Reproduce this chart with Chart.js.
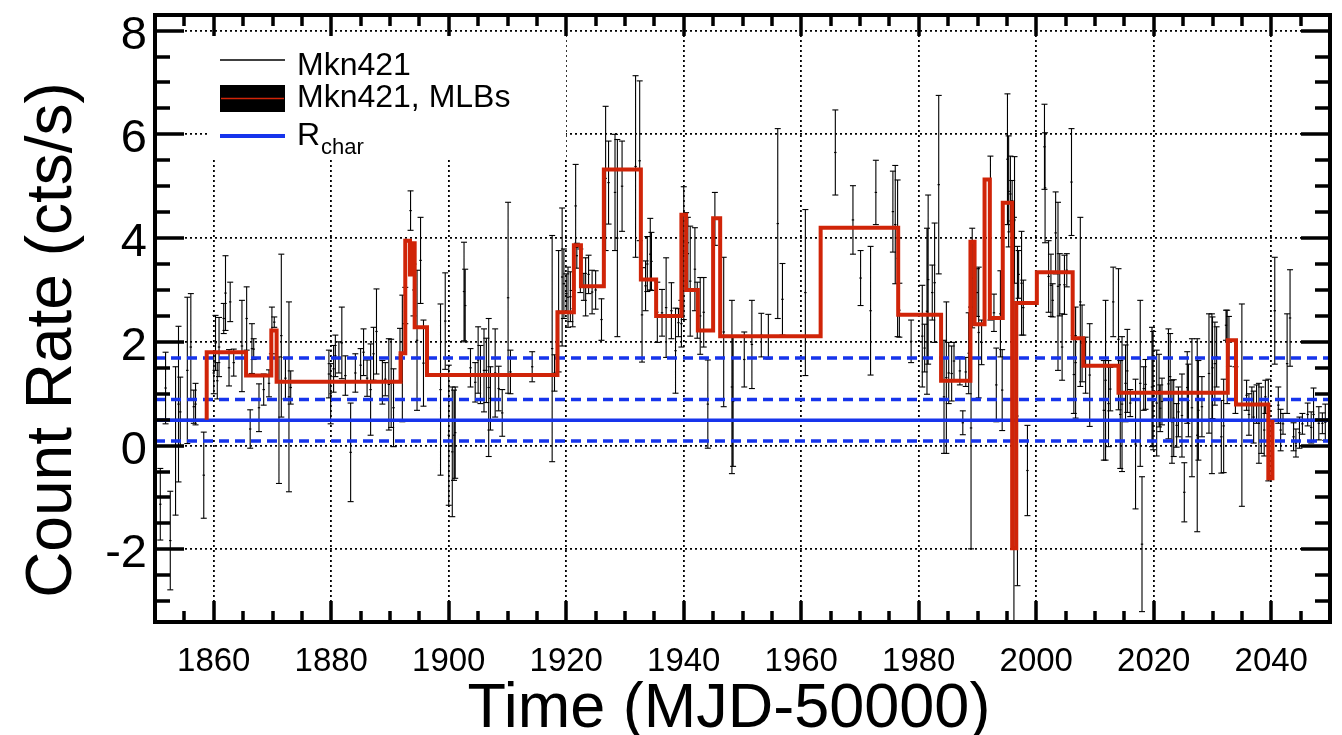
<!DOCTYPE html>
<html><head><meta charset="utf-8">
<script src="https://cdn.jsdelivr.net/npm/chart.js@4.4.0/dist/chart.umd.min.js"></script>
<style>html,body{margin:0;padding:0;background:#fff;}canvas{display:block;}</style>
</head><body>
<canvas id="c" width="1342" height="735"></canvas>
<script>
// ---- data ----
const times = [
1850.9,1851.8,1852.6,1853.5,1854.0,1854.3,1855.5,1856.1,1856.6,1856.9,1858.3,
1860.0,1860.3,1860.6,1860.9,1861.7,1862.0,1862.6,1862.8,1863.4,1864.8,1865.6,1866.2,1866.5,1866.8,1867.7,1868.5,1869.4,1869.9,1870.3,1871.1,1871.5,1872.2,1872.8,1873.1,
1879.6,1879.9,1880.4,1880.7,1881.3,1881.8,1882.4,1883.3,1884.1,1885.0,1885.5,1886.1,1886.7,1887.2,1887.7,1888.7,1889.2,1889.8,1890.2,1890.6,1891.7,1892.1,1892.6,1893.5,1894.0,1894.6,1895.2,1895.7,1898.6,1899.4,
1900.0,1900.6,1900.9,1901.1,1902.6,1902.8,1903.7,1904.5,1905.0,1905.4,1906.0,1906.4,1906.8,1907.1,1907.9,1908.5,1909.1,1910.1,1910.5,1914.2,1917.6,1918.0,1918.7,1919.3,1919.6,
1920.0,1920.3,1920.7,1921.1,1921.6,1921.8,1922.4,1923.0,1923.3,1923.8,1924.4,1925.0,1926.0,1926.7,1927.2,1928.3,1928.7,1929.5,1931.8,1932.5,1932.9,1933.5,1933.8,1934.3,1934.5,1935.5,1936.3,1937.0,1937.9,1938.6,1939.1,1939.6,
1940.0,1940.4,1940.7,1941.1,1941.9,1942.3,1942.8,1943.4,1944.1,1945.3,1946.8,1948.2,1948.4,1950.3,1951.6,1953.2,1954.4,1956.0,1956.8,1960.7,1965.8,1968.8,1970.1,1971.8,1972.7,1975.6,1976.0,1976.4,1976.7,1978.7,
1980.6,1981.0,1981.4,1981.6,1982.3,1982.7,1983.4,1984.3,1984.7,1985.1,1985.6,1986.0,1987.0,1987.5,1988.0,1988.5,1988.9,1989.1,1989.9,1990.2,1990.7,1992.2,1992.8,1993.2,1993.9,1994.2,1995.1,1995.3,1995.6,1995.9,1996.2,1996.3,1996.8,1997.0,1997.5,1997.8,1998.5,
2001.4,2001.5,2002.1,2002.5,2002.8,2003.3,2003.7,2004.0,2004.4,2004.8,2005.2,2006.0,2006.4,2006.7,2007.5,2007.8,2008.4,2009.1,2011.5,2011.8,2012.3,2012.6,2013.1,2014.0,2014.3,2014.6,2015.2,2015.5,2016.0,2016.9,2017.7,2018.0,2018.3,2018.6,2019.7,2019.9,
2020.5,2020.9,2021.1,2021.4,2022.5,2022.8,2023.1,2023.4,2023.9,2024.2,2024.8,2025.2,2025.7,2025.9,2026.5,2027.4,2027.6,2028.2,2029.4,2029.9,2030.0,2030.4,2030.7,2031.5,2031.9,2032.3,2032.5,2032.8,2033.9,2035.0,2035.8,2036.7,2037.5,2037.9,2038.3,2039.0,2039.5,
2040.6,2041.2,2042.0,2042.7,2043.2,2043.8,2044.2,2045.3,2046.2,2047.2,2048.1,2048.7,
2036.2,2037.0,2038.8,2041.6,2044.8,2046.8,2049.2];
const rates = [
-1.13,1.11,-1.83,0.09,0.80,0.65,1.45,1.90,0.75,0.80,-0.57,
1.40,1.98,1.25,1.90,2.45,2.94,1.50,2.77,1.60,1.92,2.45,0.32,1.87,1.86,0.73,1.08,1.20,2.22,2.38,0.49,2.12,1.30,0.94,1.12,
1.38,1.00,1.48,1.73,1.70,1.98,1.35,-0.13,1.40,1.55,1.80,1.30,1.08,1.77,2.20,1.22,1.28,1.18,1.20,0.73,1.75,1.68,2.70,4.53,3.00,2.03,3.57,1.59,1.08,2.40,
0.20,-0.12,0.20,0.25,2.97,2.70,1.50,1.22,1.65,1.37,1.45,1.45,1.12,0.91,1.40,1.10,0.63,2.85,1.42,1.52,1.87,1.40,2.59,3.25,3.12,
2.93,2.86,2.87,2.64,4.62,3.66,3.37,3.06,3.06,3.30,2.96,3.00,2.43,5.15,5.07,4.88,4.00,5.00,5.38,5.49,2.52,3.08,3.50,3.69,3.55,2.57,2.56,2.66,2.60,1.83,2.37,2.35,
3.71,4.20,3.70,3.17,3.40,2.61,2.50,2.57,0.80,4.37,2.19,1.13,0.85,1.66,1.95,2.13,2.10,4.28,2.82,2.95,5.65,4.35,3.23,2.60,4.88,4.51,4.26,3.61,2.61,2.01,
2.11,1.88,2.59,3.20,2.95,3.14,5.03,0.94,1.31,1.40,1.39,1.63,1.44,0.44,1.42,1.78,0.34,3.23,2.95,2.18,1.99,4.00,2.56,1.17,2.54,1.07,5.52,4.90,4.85,4.72,0.50,4.35,0.57,3.30,3.13,2.66,-0.48,
5.76,4.97,3.26,3.09,2.80,4.10,3.07,3.10,1.90,3.10,3.38,5.08,1.37,1.60,2.77,1.97,1.55,1.36,0.68,1.26,0.81,1.09,2.77,2.05,0.60,0.80,1.20,1.44,0.82,0.03,1.20,-1.90,1.10,1.18,1.13,1.06,
0.82,1.06,0.72,0.85,1.19,1.33,0.46,0.53,0.39,0.65,0.58,-0.90,1.12,0.87,0.73,0.20,0.68,0.75,1.39,1.00,1.50,1.58,1.71,0.17,0.38,2.32,1.71,2.01,1.07,0.78,0.97,0.81,0.80,0.43,0.49,0.94,0.30,
2.60,0.78,0.42,1.58,2.46,0.17,0.05,0.42,0.60,0.60,0.43,0.43,
0.60,0.55,0.30,0.30,0.25,0.35,0.45];
const errors = [
0.69,0.69,0.95,1.43,1.50,0.67,1.41,1.03,0.32,0.40,0.83,
0.40,0.53,0.35,0.57,0.29,0.72,0.35,0.38,0.26,0.88,0.61,0.37,0.48,0.20,0.46,0.30,0.26,0.45,0.10,1.22,1.57,0.40,1.83,0.32,
0.46,0.58,0.45,0.40,0.30,0.69,0.38,0.95,0.37,0.32,0.45,0.35,0.88,0.51,0.82,0.42,0.32,0.88,0.85,0.75,0.51,1.22,0.35,0.38,0.50,1.35,0.83,0.83,1.65,0.93,
1.35,1.25,0.87,0.88,0.95,0.70,0.37,0.38,0.64,0.56,0.80,0.62,1.33,0.61,0.85,0.43,0.45,1.84,0.42,0.29,2.18,0.35,1.17,1.33,0.67,
0.38,0.58,0.48,0.35,0.80,0.24,0.42,0.26,0.56,0.37,0.42,0.37,0.40,1.39,0.80,1.12,1.90,0.87,1.75,1.54,0.91,0.48,0.53,0.69,0.56,0.58,0.45,0.96,0.54,0.82,0.27,0.45,
1.28,0.29,0.70,1.06,0.80,0.54,0.74,0.67,0.85,0.51,1.44,1.67,1.25,0.53,0.85,0.42,0.43,1.83,0.69,1.60,0.82,0.66,0.53,1.24,0.62,0.78,1.14,1.51,0.52,0.41,
0.98,0.46,1.60,1.63,0.53,1.15,1.72,1.09,1.46,0.59,0.53,0.36,0.27,0.23,0.28,0.78,2.33,0.96,0.46,1.26,0.43,1.58,0.36,0.71,0.83,0.78,1.26,1.07,0.73,0.39,3.90,1.22,3.27,0.46,1.00,0.53,0.87,
0.82,1.06,0.69,0.60,0.32,0.79,1.62,0.60,0.64,0.57,0.32,1.03,0.75,1.07,1.63,0.74,0.54,0.99,0.96,1.54,0.83,0.42,0.67,1.36,1.04,1.30,0.74,0.80,0.26,1.25,1.60,1.30,0.42,0.48,1.15,1.14,
1.02,0.70,0.45,0.45,1.06,0.83,0.80,0.74,0.42,0.48,0.80,0.57,0.69,0.70,1.33,1.86,0.96,0.58,1.15,1.54,0.98,0.80,0.58,0.70,0.90,0.29,0.90,0.48,0.45,1.95,0.29,0.32,0.37,0.77,0.64,0.32,0.98,
1.03,0.35,0.20,0.96,0.93,0.27,0.27,0.20,0.22,0.51,0.32,0.20,
0.40,0.50,0.50,0.40,0.30,0.30,0.35];

// Bayesian blocks (MLBs): block edges and block levels
const mlbEdges = [1858.8,1865.5,1869.8,1870.7,1891.8,1892.6,1893.4,1893.8,1894.2,1896.3,1918.5,1921.3,1922.5,1926.4,1932.7,1935.3,1939.6,1940.4,1942.4,1945.0,1946.2,1963.3,1976.5,1983.8,1988.8,1989.5,1991.2,1992.1,1994.3,1995.9,1996.6,2000.1,2006.2,2008.0,2014.0,2032.6,2034.0,2039.5,2040.2];
const mlbLevels = [1.80,1.35,2.22,1.23,1.78,3.95,3.30,3.90,2.28,1.36,2.57,3.86,3.07,5.32,3.20,2.50,4.45,3.00,2.22,4.38,2.11,4.20,2.52,1.25,3.93,2.34,5.13,2.46,4.68,-1.98,2.75,3.34,2.07,1.54,1.02,2.03,0.79,-0.63];
const mlbBase = 0.5;

const rChar = 0.49;
const rCharBand = [0.09, 0.89, 1.69];

const xRange = [1850, 2050];
const yRange = [-3.4, 8.3];
const xTicks = [1860,1880,1900,1920,1940,1960,1980,2000,2020,2040];
const xTickLabels = ['1860','1880','1900','1920','1940','1960','1980','2000','2020','2040'];
const yTicks = [-2,0,2,4,6,8];
const yTickLabels = ['-2','0','2','4','6','8'];
const xTitle = 'Time (MJD-50000)';
const yTitle = 'Count Rate (cts/s)';

// ---- build datasets ----
const FONT = "'Liberation Sans', Arial, Helvetica, sans-serif";
const RED = 'rgb(208,36,8)';
const BLUE = 'rgb(22,52,236)';

const barPts = [];
const capPts = [];
const midPts = [];
times.forEach((t, i) => {
  barPts.push({x: t, y: rates[i] - errors[i]}, {x: t, y: rates[i] + errors[i]}, {x: t, y: null});
  capPts.push({x: t, y: rates[i] - errors[i]}, {x: t, y: rates[i] + errors[i]});
  midPts.push({x: t, y: rates[i]});
});

const mlbPts = [{x: mlbEdges[0], y: mlbBase}];
mlbLevels.forEach((lv, i) => mlbPts.push({x: mlbEdges[i + 1], y: lv}));
mlbPts.push({x: mlbEdges[mlbEdges.length - 1], y: mlbBase});
const darkPts = [{x: xRange[0], y: mlbBase}, {x: mlbEdges[0], y: mlbBase}, {x: null, y: null},
                 {x: mlbEdges[mlbEdges.length - 1], y: mlbBase}, {x: xRange[1], y: mlbBase}];

const hLine = v => [{x: xRange[0], y: v}, {x: xRange[1], y: v}];

const datasets = [
  {type: 'line', label: 'Mkn421, MLBs', data: mlbPts, stepped: 'after', borderColor: RED, borderWidth: 4,
   pointRadius: 0, fill: false, order: 0, borderJoinStyle: 'miter', borderCapStyle: 'butt'},
  {type: 'line', label: 'R_char', data: hLine(rChar), borderColor: BLUE, borderWidth: 3.5, pointRadius: 0, order: 1},
  ...rCharBand.map(v => ({type: 'line', label: 'band', data: hLine(v), borderColor: BLUE, borderWidth: 3.5,
     borderDash: [10, 6], pointRadius: 0, order: 1})),
  {type: 'line', label: 'dark', data: darkPts, borderColor: '#222', borderWidth: 2, pointRadius: 0, spanGaps: false, order: 1.5},
  {type: 'line', label: 'Mkn421', data: barPts, borderColor: '#000', borderWidth: 1.1, pointRadius: 0, spanGaps: false, order: 2},
  {type: 'scatter', label: 'caps', data: capPts, pointStyle: 'line', pointRadius: 3, borderColor: '#000', borderWidth: 1.1, order: 2},
  {type: 'scatter', label: 'mid', data: midPts, pointStyle: 'line', pointRadius: 1.2, borderColor: '#000', borderWidth: 1.2, order: 2}
];

// ---- plugins ----
const legendBox = {
  id: 'legendBox',
  beforeDatasetsDraw(chart) {
    const ctx = chart.ctx;
    ctx.save();
    ctx.fillStyle = '#fff';
    ctx.fillRect(207, 33, 359, 127);
    ctx.strokeStyle = '#000'; ctx.lineWidth = 1.5;
    ctx.beginPath(); ctx.moveTo(220, 60); ctx.lineTo(285, 60); ctx.stroke();
    ctx.fillStyle = '#000'; ctx.fillRect(220, 85, 65, 27);
    ctx.strokeStyle = RED; ctx.lineWidth = 1.5;
    ctx.beginPath(); ctx.moveTo(221, 98.5); ctx.lineTo(284, 98.5); ctx.stroke();
    ctx.strokeStyle = BLUE; ctx.lineWidth = 4;
    ctx.beginPath(); ctx.moveTo(220, 136); ctx.lineTo(285, 136); ctx.stroke();
    ctx.fillStyle = '#000';
    ctx.textBaseline = 'alphabetic'; ctx.textAlign = 'left';
    ctx.font = '32px ' + FONT;
    ctx.fillText('Mkn421', 297, 75);
    ctx.fillText('Mkn421, MLBs', 297, 107);
    ctx.fillText('R', 297, 145);
    ctx.font = '22px ' + FONT;
    ctx.fillText('char', 321, 154);
    ctx.restore();
  }
};

const frameTicks = {
  id: 'frameTicks',
  afterDatasetsDraw(chart) {
    const {ctx, chartArea: a, scales: {x, y}} = chart;
    ctx.save();
    ctx.strokeStyle = '#000';
    ctx.lineWidth = 4;
    ctx.strokeRect(a.left, a.top, a.right - a.left, a.bottom - a.top);
    ctx.lineWidth = 3.5;
    ctx.beginPath();
    for (let v = xRange[0] + 5; v < xRange[1]; v += 5) {
      const px = Math.round(x.getPixelForValue(v));
      const L = v % 20 === 0 ? 21 : 11;
      ctx.moveTo(px, a.bottom); ctx.lineTo(px, a.bottom - L);
      ctx.moveTo(px, a.top); ctx.lineTo(px, a.top + L);
    }
    for (let k = -8; k <= 18; k++) {
      const v = k * 0.5;
      if (v <= yRange[0] || v >= yRange[1]) continue;
      const py = Math.round(y.getPixelForValue(v));
      const L = v % 2 === 0 ? 29 : 15;
      ctx.moveTo(a.left, py); ctx.lineTo(a.left + L, py);
      ctx.moveTo(a.right, py); ctx.lineTo(a.right - L, py);
    }
    ctx.stroke();
    // axis titles
    ctx.fillStyle = '#000';
    ctx.textAlign = 'center';
    ctx.textBaseline = 'alphabetic';
    ctx.font = '63px ' + FONT;
    ctx.fillText(xTitle, 729, 727);
    ctx.save();
    ctx.translate(71, 340);
    ctx.rotate(-Math.PI / 2);
    ctx.font = '64px ' + FONT;
    ctx.fillText(yTitle, 0, 0);
    ctx.restore();
    ctx.restore();
  }
};

new Chart(document.getElementById('c'), {
  data: {datasets},
  options: {
    responsive: false,
    animation: false,
    devicePixelRatio: 1,
    layout: {padding: {left: 0, right: 12, top: 15, bottom: 0}},
    plugins: {legend: {display: false}, tooltip: {enabled: false}},
    scales: {
      x: {
        type: 'linear', min: xRange[0], max: xRange[1],
        afterBuildTicks: s => { s.ticks = xTicks.map(v => ({value: v})); },
        afterFit: s => { s.height = 113; s.paddingLeft = 0; s.paddingRight = 0; },
        grid: {color: '#000', lineWidth: 1.8, drawTicks: false},
        border: {display: false, dash: [2, 3]},
        ticks: {font: {family: "'Liberation Sans Narrow', 'Liberation Sans', Arial, sans-serif", size: 33}, color: '#000',
                padding: 20, maxRotation: 0, autoSkip: false,
                callback: (v, i) => xTickLabels[i]},
        title: {display: false}
      },
      y: {
        type: 'linear', min: yRange[0], max: yRange[1],
        afterBuildTicks: s => { s.ticks = yTicks.map(v => ({value: v})); },
        afterFit: s => { s.width = 155; s.paddingTop = 0; s.paddingBottom = 0; },
        grid: {color: '#000', lineWidth: 1.8, drawTicks: false},
        border: {display: false, dash: [2, 3]},
        ticks: {font: {family: FONT, size: 47}, color: '#000', padding: 8, labelOffset: 5,
                callback: (v, i) => yTickLabels[i]},
        title: {display: false}
      }
    }
  },
  plugins: [legendBox, frameTicks]
});
</script>
</body></html>
